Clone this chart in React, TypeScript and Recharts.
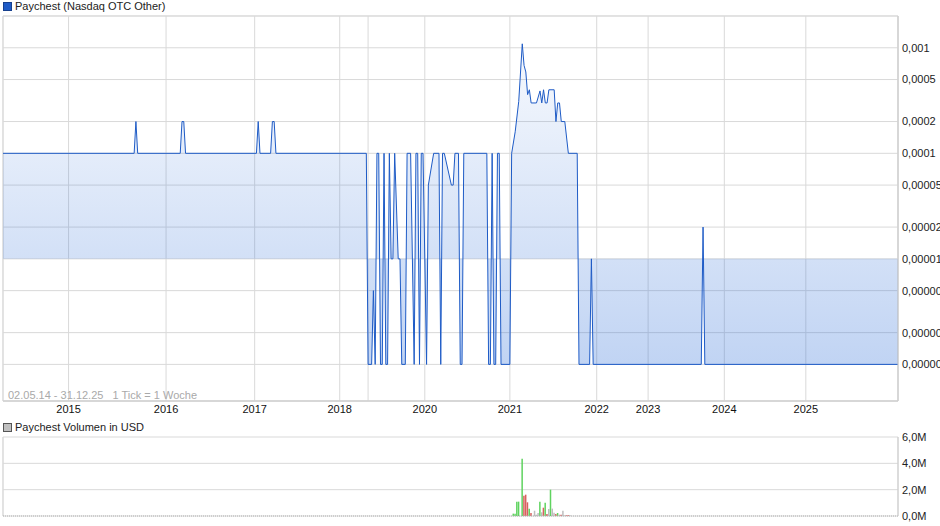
import React from "react";
import {
  AreaChart,
  Area,
  BarChart,
  Bar,
  Cell,
  XAxis,
  YAxis,
  CartesianGrid,
  ReferenceArea,
  ReferenceLine,
} from "recharts";

// x axis is the trading-week index (1 Tick = 1 Woche), 0 = 02.05.14, 505 = 31.12.25
const weekRange = [0, 505];
const yearTicks = [37, 92, 142, 190, 206, 238, 286, 335, 364, 407, 453];
const yearLabels = ["2015", "2016", "2017", "2018", "", "2020", "2021", "2022", "2023", "2024", "2025"];

// price in USD, only the weeks where the line changes
const pricePoints: [number, number][] = [
  [0, 1e-4], [74, 1e-4], [75, 2e-4], [76, 1e-4],
  [100, 1e-4], [101, 2e-4], [102, 2e-4], [103, 1e-4],
  [143, 1e-4], [144, 2e-4], [145, 1e-4],
  [151, 1e-4], [152, 2e-4], [153, 2e-4], [154, 1e-4],
  [205, 1e-4], [206, 1e-6], [208, 1e-6], [209, 5e-6], [210, 1e-6], [211, 1e-4], [212, 1e-4],
  [213, 1e-6], [214, 1e-6], [215, 1e-4], [216, 1e-6], [217, 1e-6], [218, 1e-4], [219, 1e-5],
  [220, 1e-5], [221, 1e-4], [223, 1e-5], [224, 1e-5], [225, 1e-6], [227, 1e-6], [228, 1e-4],
  [230, 1e-4], [232, 1e-6], [233, 1e-4], [234, 1e-4], [235, 1e-6], [236, 1e-4], [237, 1e-4],
  [239, 1e-6], [240, 5e-5], [243, 1e-4], [246, 1e-4], [247, 1e-6], [248, 1e-4], [249, 1e-4],
  [253, 5e-5], [254, 5e-5], [255, 1e-4], [257, 1e-4], [258, 1e-6], [259, 1e-6], [260, 1e-4],
  [273, 1e-4], [274, 1e-6], [275, 1e-6], [276, 1e-4], [277, 1e-6], [278, 1e-6], [279, 1e-4],
  [280, 1e-4], [281, 1e-6], [286, 1e-6], [287, 1e-4],
  [289, 1.6e-4], [291, 3.1e-4], [293, 1.09e-3], [294, 6.8e-4], [295, 5.9e-4], [296, 3.6e-4],
  [297, 4e-4], [298, 3e-4], [301, 3e-4], [303, 3.9e-4], [304, 3e-4], [305, 4e-4], [306, 3e-4],
  [307, 3e-4], [308, 4e-4], [311, 4e-4], [312, 2e-4], [313, 3e-4], [314, 3e-4], [315, 2e-4],
  [317, 2e-4], [319, 1e-4], [324, 1e-4], [325, 1e-6], [331, 1e-6], [332, 1e-5], [333, 1e-6],
  [394, 1e-6], [395, 2e-5], [396, 1e-6], [505, 1e-6],
];
const priceDomain = [4.5e-7, 2e-3];
const priceBase = 1e-5;
const priceTicks = [1e-3, 5e-4, 2e-4, 1e-4, 5e-5, 2e-5, 1e-5, 5e-6, 2e-6, 1e-6];
const priceTickLabels = ["0,001", "0,0005", "0,0002", "0,0001", "0,00005", "0,00002", "0,00001", "0,000005", "0,000002", "0,000001"];

// weekly volume in USD, u = up, d = down, n = unchanged
const volumePoints: [number, number, string][] = [
  [288, 0.18e6, "u"], [289, 0.18e6, "u"], [290, 1.09e6, "u"], [291, 1.09e6, "u"],
  [293, 4.35e6, "u"], [294, 1.54e6, "d"], [295, 1.62e6, "d"], [296, 1.04e6, "d"],
  [297, 0.56e6, "u"], [298, 0.23e6, "d"], [300, 0.4e6, "n"], [301, 0.1e6, "n"],
  [302, 0.23e6, "n"], [303, 1.09e6, "u"], [304, 0.28e6, "n"], [305, 0.63e6, "d"],
  [306, 1.01e6, "u"], [307, 0.15e6, "d"], [308, 0.53e6, "n"], [309, 2.0e6, "u"],
  [310, 0.56e6, "n"], [311, 0.25e6, "n"], [312, 0.15e6, "d"], [313, 0.23e6, "u"],
  [314, 0.1e6, "n"], [315, 0.1e6, "d"], [316, 0.4e6, "n"], [317, 0.05e6, "n"],
  [318, 0.05e6, "d"], [319, 0.05e6, "d"], [320, 0.05e6, "n"],
];
const volumeDomain = [0, 6e6];
const volumeTicks = [0, 2e6, 4e6, 6e6];
const volumeTickLabels = ["0,0M", "2,0M", "4,0M", "6,0M"];

const FONT = '"Liberation Sans", Arial, sans-serif';
const GRID = "#d9d9d9";
const LINE = "#1e5bc6";
const dirColors: Record<string, string> = { u: "#5fd35f", d: "#d9605f", n: "#bdbdbd" };

const yearFmt = (v: number) => yearLabels[yearTicks.indexOf(v)] ?? "";
const priceFmt = (v: number) => priceTickLabels[priceTicks.indexOf(v)] ?? "";
const volumeFmt = (v: number) => volumeTickLabels[volumeTicks.indexOf(v)] ?? "";

export default function App() {
  const priceData = pricePoints.map(([week, price]) => ({ week, price }));
  const volumeData = volumePoints.map(([week, volume, dir]) => ({ week, volume, dir }));
  const tickStyle = { fontSize: 11, fill: "#222", fontFamily: FONT };

  return (
    <div style={{ position: "absolute", left: 0, top: 0, width: 940, height: 526, background: "#fff", fontFamily: FONT, overflow: "hidden" }}>
      <div style={{ position: "absolute", left: 0, top: 0 }}>
        <AreaChart width={940} height={421} data={priceData} margin={{ top: 16, right: 0, bottom: 0, left: 3 }}>
          <defs>
            <linearGradient id="priceFill" x1="0" y1="0" x2="0" y2="1">
              <stop offset="0" stopColor="#2f6fd8" stopOpacity={0.04} />
              <stop offset="1" stopColor="#2f6fd8" stopOpacity={0.3} />
            </linearGradient>
          </defs>
          <CartesianGrid stroke={GRID} />
          <ReferenceArea x1={weekRange[0]} x2={weekRange[1]} y1={priceDomain[0]} y2={priceDomain[1]} fill="none" stroke={GRID} ifOverflow="visible" />
          <XAxis
            dataKey="week"
            type="number"
            domain={weekRange}
            allowDataOverflow
            ticks={yearTicks}
            interval={0}
            tickFormatter={yearFmt}
            tickLine={false}
            tickSize={0}
            tickMargin={4}
            axisLine={{ stroke: "#cccccc" }}
            tick={{ ...tickStyle, fill: "#111" }}
            height={20}
          />
          <YAxis
            orientation="right"
            type="number"
            scale="log"
            domain={priceDomain}
            allowDataOverflow
            ticks={priceTicks}
            interval={0}
            tickFormatter={priceFmt}
            tickLine={false}
            tickSize={0}
            tickMargin={4}
            axisLine={{ stroke: "#cccccc" }}
            tick={tickStyle}
            width={42}
          />
          <Area
            type="linear"
            dataKey="price"
            baseValue={priceBase}
            stroke={LINE}
            strokeWidth={1}
            fill="url(#priceFill)"
            fillOpacity={1}
            dot={false}
            activeDot={false}
            isAnimationActive={false}
          />
        </AreaChart>
      </div>

      <div style={{ position: "absolute", left: 3, top: 2, width: 9, height: 9, boxSizing: "border-box", background: "#1f5bc6", border: "1px solid #17408e" }} />
      <div style={{ position: "absolute", left: 15, top: 0, fontSize: 11, lineHeight: "13px", color: "#222" }}>Paychest (Nasdaq OTC Other)</div>
      <div style={{ position: "absolute", left: 8, top: 389, fontSize: 11, lineHeight: "13px", color: "#a9a9a9", whiteSpace: "pre" }}>
        {"02.05.14 - 31.12.25   1 Tick = 1 Woche"}
      </div>

      <div style={{ position: "absolute", left: 3, top: 423, width: 9, height: 9, boxSizing: "border-box", background: "#c0c0c0", border: "1px solid #555" }} />
      <div style={{ position: "absolute", left: 15, top: 421, fontSize: 11, lineHeight: "13px", color: "#222" }}>Paychest Volumen in USD</div>

      <div style={{ position: "absolute", left: 0, top: 430 }}>
        <BarChart width={940} height={96} data={volumeData} margin={{ top: 7, right: 0, bottom: 10, left: 3 }}>
          <CartesianGrid stroke={GRID} />
          <ReferenceLine x={weekRange[0]} stroke={GRID} />
          <XAxis
            dataKey="week"
            type="number"
            domain={weekRange}
            allowDataOverflow
            ticks={yearTicks}
            interval={0}
            tick={false}
            tickLine={false}
            axisLine={false}
            height={0}
          />
          <YAxis
            orientation="right"
            type="number"
            domain={volumeDomain}
            allowDataOverflow
            ticks={volumeTicks}
            interval={0}
            tickFormatter={volumeFmt}
            tickLine={false}
            tickSize={0}
            tickMargin={4}
            axisLine={{ stroke: "#cccccc" }}
            tick={tickStyle}
            width={42}
          />
          <ReferenceLine y={0} stroke="#b0b0b0" strokeDasharray="1 1" />
          <Bar dataKey="volume" barSize={1.5} isAnimationActive={false}>
            {volumeData.map((d) => (
              <Cell key={d.week} fill={dirColors[d.dir]} />
            ))}
          </Bar>
        </BarChart>
      </div>
    </div>
  );
}
